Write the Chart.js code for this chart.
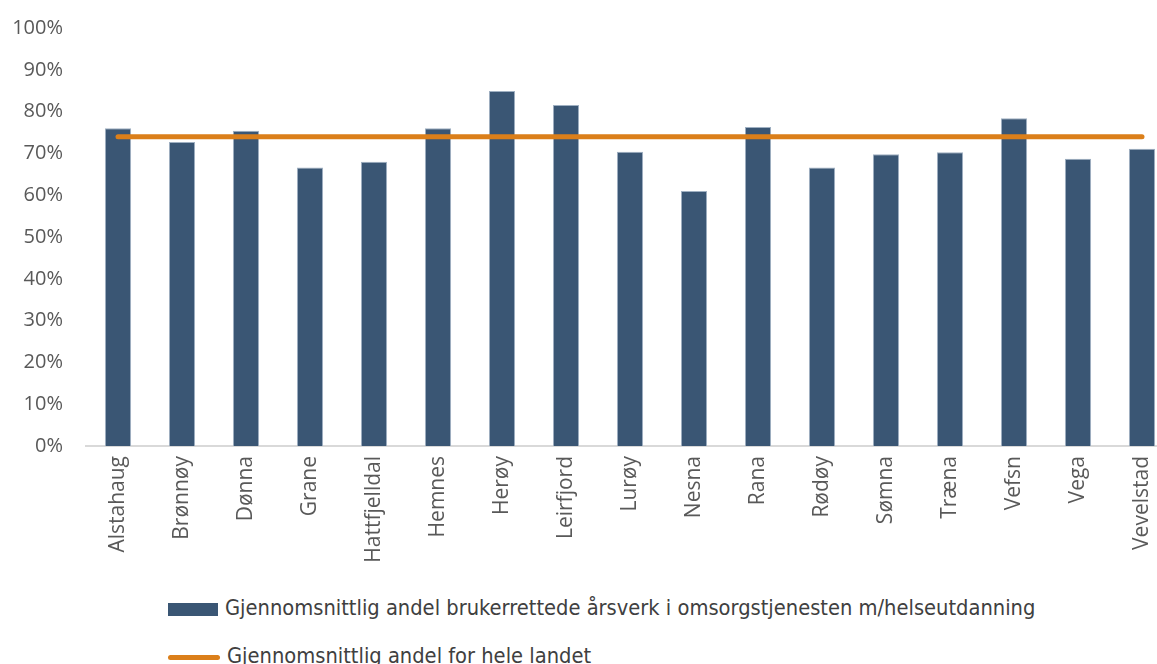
<!DOCTYPE html>
<html>
<head>
<meta charset="utf-8">
<script src="https://cdn.jsdelivr.net/npm/chart.js@4/dist/chart.umd.min.js"></script>
<style>
  html, body { margin: 0; padding: 0; background: #fff; overflow: hidden; width: 1157px; height: 664px; }
  #wrap { position: absolute; left: 0; top: -7px; width: 1180px; height: 593px; }
  .legend { position: absolute; left: 168px; font-family: "Liberation Sans Narrow", "DejaVu Sans Condensed", sans-serif; font-size: 21.7px; color: #404040; white-space: nowrap; }
  .legend .sw { display: inline-block; vertical-align: middle; margin-right: 7px; }
  #leg1 { top: 595px; }
  #leg2 { top: 643px; }
  #leg1 .sw { width: 50px; height: 13px; background: #3A5674; }
  #leg2 .sw { width: 52px; height: 5px; background: #DB7F1A; border-radius: 3px; }
</style>
</head>
<body>
<div id="wrap"><canvas id="chart"></canvas></div>
<div class="legend" id="leg1"><span class="sw"></span><span id="leg1txt"></span></div>
<div class="legend" id="leg2"><span class="sw"></span><span id="leg2txt"></span></div>
<script>
const kommuner = ['Alstahaug', 'Brønnøy', 'Dønna', 'Grane', 'Hattfjelldal', 'Hemnes', 'Herøy', 'Leirfjord',
  'Lurøy', 'Nesna', 'Rana', 'Rødøy', 'Sømna', 'Træna', 'Vefsn', 'Vega', 'Vevelstad'];

// andel i prosent
const andelKommune = [76.0, 72.7, 75.4, 66.6, 68.0, 76.0, 84.9, 81.6, 70.4, 61.0, 76.3, 66.6, 69.8, 70.3, 78.4, 68.7, 71.1];
const andelLandet = [74.0, 74.0, 74.0, 74.0, 74.0, 74.0, 74.0, 74.0, 74.0, 74.0, 74.0, 74.0, 74.0, 74.0, 74.0, 74.0, 74.0];

const yTicks = [0, 10, 20, 30, 40, 50, 60, 70, 80, 90, 100];

const navnKommune = 'Gjennomsnittlig andel brukerrettede årsverk i omsorgstjenesten m/helseutdanning';
const navnLandet = 'Gjennomsnittlig andel for hele landet';

document.getElementById('leg1txt').textContent = navnKommune;
document.getElementById('leg2txt').textContent = navnLandet;

var data = {
  labels: kommuner,
  datasets: [
    {
      type: 'line',
      label: navnLandet,
      data: andelLandet,
      borderColor: '#DB7F1A',
      backgroundColor: '#DB7F1A',
      borderWidth: 5,
      borderCapStyle: 'round',
      pointRadius: 0,
      order: 0
    },
    {
      type: 'bar',
      label: navnKommune,
      data: andelKommune,
      backgroundColor: '#3A5674',
      borderColor: '#9fb0c2',
      borderWidth: 1,
      categoryPercentage: 1,
      barPercentage: 0.41,
      order: 1
    }
  ]
};

const config = {
  data: data,
  options: {
    responsive: true,
    maintainAspectRatio: false,
    animation: false,
    layout: { padding: { top: 9, right: 6 } },
    plugins: {
      legend: { display: false },
      tooltip: { enabled: false }
    },
    scales: {
      x: {
        grid: { display: false, drawTicks: false },
        border: { display: true, color: '#d9d9d9', width: 2 },
        ticks: {
          color: '#595959',
          font: { family: 'Open Sans', size: 21 },
          maxRotation: 90,
          minRotation: 90,
          padding: 10,
          autoSkip: false
        },
        afterFit: function(s) { s.height = 140; }
      },
      y: {
        min: 0,
        max: 100,
        grid: { display: false, drawTicks: false },
        border: { display: false },
        afterBuildTicks: function(s) { s.ticks = yTicks.map(function(v) { return { value: v }; }); },
        ticks: {
          color: '#595959',
          font: { family: 'Open Sans', size: 20 },
          padding: 23,
          callback: function(v) { return v + '%'; }
        },
        afterFit: function(s) { s.width = 86; }
      }
    }
  }
};

const chart = new Chart(document.getElementById('chart'), config);
</script>
</body>
</html>
